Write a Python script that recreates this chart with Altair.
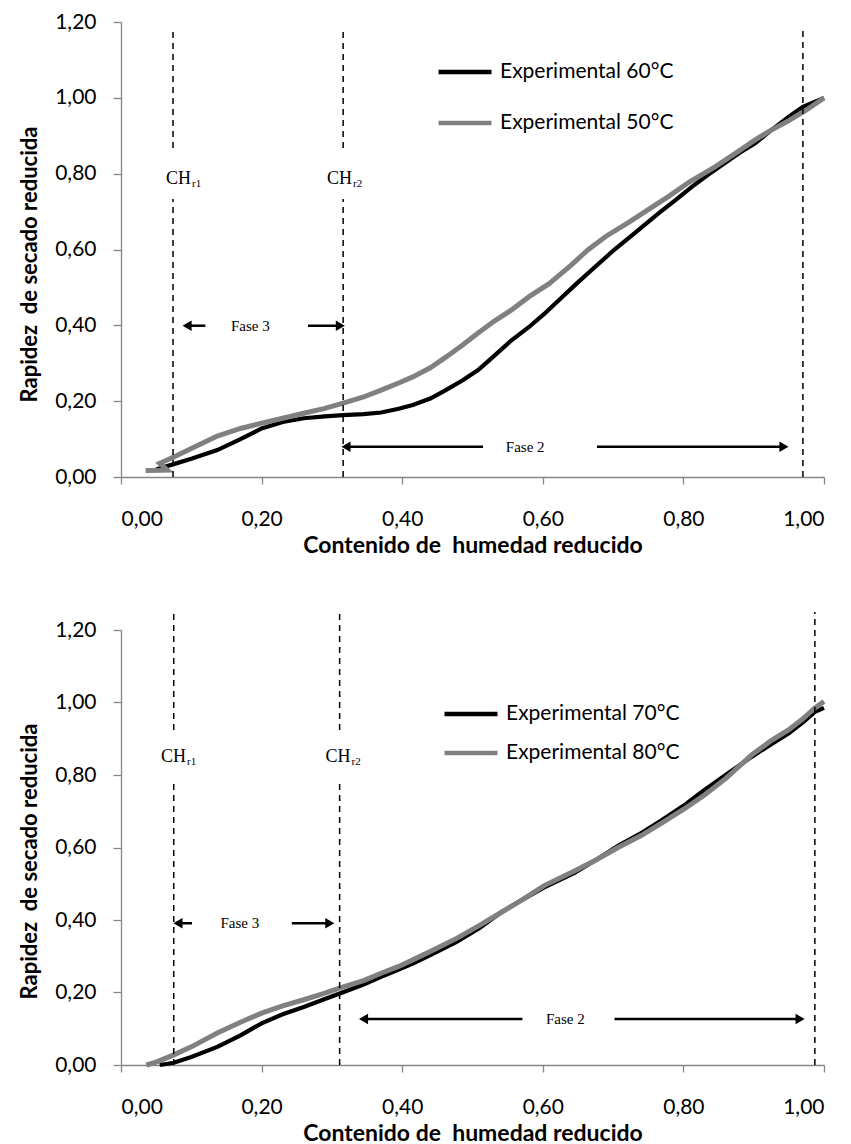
import altair as alt
import pandas as pd

# ---------------- data: top chart (60 / 50 °C) ----------------
top_names = ["Experimental 60°C", "Experimental 50°C"]
x60 = [0.050, 0.060, 0.075, 0.100, 0.137, 0.170, 0.200, 0.230, 0.260, 0.290, 0.316, 0.345,
       0.370, 0.395, 0.415, 0.440, 0.462, 0.485, 0.508, 0.530, 0.555, 0.580, 0.602, 0.625,
       0.648, 0.675, 0.702, 0.735, 0.765, 0.790, 0.812, 0.835, 0.859, 0.880, 0.902, 0.925,
       0.950, 0.970, 1.000]
y60 = [0.020, 0.026, 0.034, 0.048, 0.071, 0.100, 0.128, 0.145, 0.155, 0.160, 0.163, 0.166,
       0.170, 0.180, 0.190, 0.207, 0.229, 0.254, 0.282, 0.318, 0.360, 0.395, 0.430, 0.470,
       0.510, 0.555, 0.600, 0.650, 0.696, 0.732, 0.765, 0.797, 0.828, 0.855, 0.880, 0.915,
       0.950, 0.976, 1.000]
x50 = [0.035, 0.066, 0.055, 0.075, 0.100, 0.137, 0.170, 0.200, 0.230, 0.260, 0.290, 0.316,
       0.345, 0.370, 0.395, 0.415, 0.440, 0.462, 0.485, 0.508, 0.530, 0.555, 0.580, 0.609,
       0.640, 0.664, 0.690, 0.721, 0.750, 0.779, 0.810, 0.845, 0.875, 0.902, 0.925, 0.950,
       0.975, 1.000]
y50 = [0.017, 0.018, 0.036, 0.053, 0.075, 0.108, 0.128, 0.142, 0.155, 0.168, 0.181, 0.195,
       0.211, 0.229, 0.248, 0.264, 0.288, 0.316, 0.347, 0.380, 0.410, 0.440, 0.475, 0.510,
       0.558, 0.599, 0.635, 0.670, 0.705, 0.740, 0.780, 0.818, 0.855, 0.889, 0.915, 0.940,
       0.968, 1.000]

# ---------------- data: bottom chart (70 / 80 °C) ----------------
bot_names = ["Experimental 70°C", "Experimental 80°C"]
x70 = [0.055, 0.075, 0.100, 0.137, 0.170, 0.200, 0.230, 0.260, 0.290, 0.315, 0.345, 0.370,
       0.395, 0.415, 0.445, 0.478, 0.510, 0.540, 0.570, 0.602, 0.645, 0.675, 0.707, 0.740,
       0.769, 0.800, 0.826, 0.860, 0.897, 0.925, 0.950, 0.970, 0.987, 1.000]
y70 = [0.000, 0.006, 0.022, 0.050, 0.082, 0.115, 0.140, 0.160, 0.182, 0.200, 0.222, 0.243,
       0.263, 0.280, 0.308, 0.340, 0.378, 0.420, 0.455, 0.490, 0.530, 0.565, 0.605, 0.640,
       0.675, 0.715, 0.753, 0.800, 0.850, 0.885, 0.915, 0.945, 0.974, 0.985]
x80 = [0.036, 0.050, 0.075, 0.100, 0.137, 0.170, 0.200, 0.230, 0.260, 0.290, 0.315, 0.345,
       0.370, 0.395, 0.415, 0.445, 0.478, 0.510, 0.540, 0.570, 0.602, 0.645, 0.675, 0.707,
       0.740, 0.769, 0.800, 0.830, 0.860, 0.897, 0.925, 0.950, 0.970, 0.987, 1.000]
y80 = [0.000, 0.008, 0.028, 0.050, 0.088, 0.118, 0.143, 0.163, 0.180, 0.198, 0.215, 0.233,
       0.253, 0.272, 0.290, 0.318, 0.350, 0.385, 0.420, 0.455, 0.495, 0.535, 0.565, 0.600,
       0.633, 0.667, 0.705, 0.745, 0.790, 0.855, 0.895, 0.925, 0.955, 0.985, 1.003]

# ---------------- annotations ----------------
# dashed vertical segments: x, y from, y to
top_dash_x = [0.074, 0.074, 0.316, 0.316, 0.970]
top_dash_y0 = [0.868, 0.000, 0.868, 0.000, 0.000]
top_dash_y1 = [1.180, 0.733, 1.180, 0.733, 1.180]
bot_dash_x = [0.075, 0.075, 0.311, 0.311, 0.987]
bot_dash_y0 = [0.924, 0.000, 0.924, 0.000, 0.000]
bot_dash_y1 = [1.250, 0.786, 1.250, 0.786, 1.250]

ch_main = ["CH", "CH"]
ch_sub = ["r1", "r2"]
top_ch_x = [0.064, 0.293]
top_ch_y = [0.786] * 2
bot_ch_x = [0.057, 0.291]
bot_ch_y = [0.850] * 2

# arrows: tail x, tip x, y
top_arrow_tail = [0.120, 0.266, 0.515, 0.677]
top_arrow_tip = [0.094, 0.312, 0.320, 0.943]
top_arrow_y = [0.399, 0.399, 0.080, 0.080]
bot_arrow_tail = [0.101, 0.243, 0.571, 0.702]
bot_arrow_tip = [0.081, 0.297, 0.345, 0.966]
bot_arrow_y = [0.391, 0.391, 0.127, 0.127]

fase_text = ["Fase 3", "Fase 2"]
top_fase_x = [0.184, 0.575]
top_fase_y = [0.399, 0.080]
bot_fase_x = [0.169, 0.632]
bot_fase_y = [0.391, 0.127]

x_ticks = [0, 0.2, 0.4, 0.6, 0.8, 1.0]
y_ticks = [0, 0.2, 0.4, 0.6, 0.8, 1.0, 1.2]
label_expr = "replace(format(datum.value, '.2f'), '.', ',')"
x_title = "Contenido de\u00a0 humedad reducido"
y_title = "Rapidez\u00a0 de secado reducida"


def make_panel(names, xa, ya, xb, yb, dash, ch, arrows, fase, height, title_y,
               leg_x, leg_y, row_pad):
    d_a = pd.DataFrame({"x": xa, "y": ya, "serie": names[0], "i": range(len(xa))})
    d_b = pd.DataFrame({"x": xb, "y": yb, "serie": names[1], "i": range(len(xb))})

    xscale = alt.Scale(domain=[0, 1], nice=False, zero=False)
    yscale = alt.Scale(domain=[0, 1.2], nice=False, zero=False)
    xaxis = alt.Axis(values=x_ticks, labelExpr=label_expr, title=x_title,
                     tickSize=7, labelPadding=24, titlePadding=5, titleFontSize=23,
                     labelFontSize=21)
    yaxis = alt.Axis(values=y_ticks, labelExpr=label_expr, title=y_title,
                     tickSize=8, labelPadding=17, titlePadding=13, titleFontSize=22,
                     labelFontSize=21, titleY=title_y)
    color = alt.Color("serie:N",
                      scale=alt.Scale(domain=names, range=["#000000", "#808080"]),
                      legend=alt.Legend(orient="none", legendX=leg_x, legendY=leg_y, title=None,
                                        symbolType="stroke", symbolStrokeWidth=4.5,
                                        symbolSize=2809, labelFont="Lato", labelFontSize=21,
                                        labelColor="black", labelOffset=6, rowPadding=row_pad,
                                        padding=0, labelLimit=0))

    line_a = alt.Chart(d_a).mark_line(strokeWidth=4.2).encode(
        x=alt.X("x:Q", scale=xscale, axis=xaxis),
        y=alt.Y("y:Q", scale=yscale, axis=yaxis),
        color=color, order="i:Q")
    line_b = alt.Chart(d_b).mark_line(strokeWidth=5).encode(
        x=alt.X("x:Q"), y=alt.Y("y:Q"), color=alt.Color("serie:N"), order="i:Q")

    dx_, dy0, dy1 = dash
    d_dash = pd.DataFrame({"x": dx_, "y": dy0, "y1": dy1})
    dashes = alt.Chart(d_dash).mark_rule(color="black", strokeWidth=1.5, strokeDash=[6, 5]).encode(
        x="x:Q", y="y:Q", y2="y1:Q")

    cx, cy = ch
    d_ch = pd.DataFrame({"x": cx, "y": cy, "t": ch_main, "s": ch_sub})
    ch_text = alt.Chart(d_ch).mark_text(font="Liberation Serif", fontSize=18, align="left",
                                        baseline="middle", color="black").encode(
        x="x:Q", y="y:Q", text="t:N")
    ch_subt = alt.Chart(d_ch).mark_text(font="Liberation Serif", fontSize=11, align="left",
                                        baseline="middle", color="black", dx=26, dy=5).encode(
        x="x:Q", y="y:Q", text="s:N")

    at, ap, ay = arrows
    d_ar = pd.DataFrame({"x": at, "x2": ap, "y": ay,
                         "dir": ["triangle-right" if p > t else "triangle-left" for t, p in zip(at, ap)]})
    shafts = alt.Chart(d_ar).mark_rule(color="black", strokeWidth=2.5).encode(
        x="x:Q", x2="x2:Q", y="y:Q")
    heads_r = alt.Chart(d_ar).transform_filter("datum.dir == 'triangle-right'").mark_point(
        shape="triangle-right", filled=True, color="black", size=110, opacity=1, dx=-4).encode(
        x="x2:Q", y="y:Q")
    heads_l = alt.Chart(d_ar).transform_filter("datum.dir == 'triangle-left'").mark_point(
        shape="triangle-left", filled=True, color="black", size=110, opacity=1, dx=4).encode(
        x="x2:Q", y="y:Q")

    fx, fy = fase
    d_f = pd.DataFrame({"x": fx, "y": fy, "t": fase_text})
    f_text = alt.Chart(d_f).mark_text(font="Liberation Serif", fontSize=15, align="center",
                                      baseline="middle", color="black").encode(
        x="x:Q", y="y:Q", text="t:N")

    return alt.layer(line_a, line_b, dashes, ch_text, ch_subt, shafts, heads_r, heads_l,
                     f_text).properties(width=703, height=height)


top = make_panel(top_names, x60, y60, x50, y50,
                 (top_dash_x, top_dash_y0, top_dash_y1), (top_ch_x, top_ch_y),
                 (top_arrow_tail, top_arrow_tip, top_arrow_y), (top_fase_x, top_fase_y),
                 455, 242, 315, 21, 12)
bottom = make_panel(bot_names, x70, y70, x80, y80,
                    (bot_dash_x, bot_dash_y0, bot_dash_y1), (bot_ch_x, bot_ch_y),
                    (bot_arrow_tail, bot_arrow_tip, bot_arrow_y), (bot_fase_x, bot_fase_y),
                    435, 231, 321, 55, -14)

chart = alt.vconcat(top, bottom, spacing=54).resolve_scale(color="independent").properties(
    padding={"left": 18, "top": 11, "right": 5, "bottom": 5}
).configure_view(stroke=None).configure_axis(
    grid=False, domainColor="#868686", tickColor="#868686", domainWidth=1.3, tickWidth=1.3,
    labelFont="Lato", labelColor="black", titleFont="Lato", titleFontWeight="bold",
    titleColor="black"
)

chart.save("out.html", embed_options={"renderer": "svg", "actions": False})
